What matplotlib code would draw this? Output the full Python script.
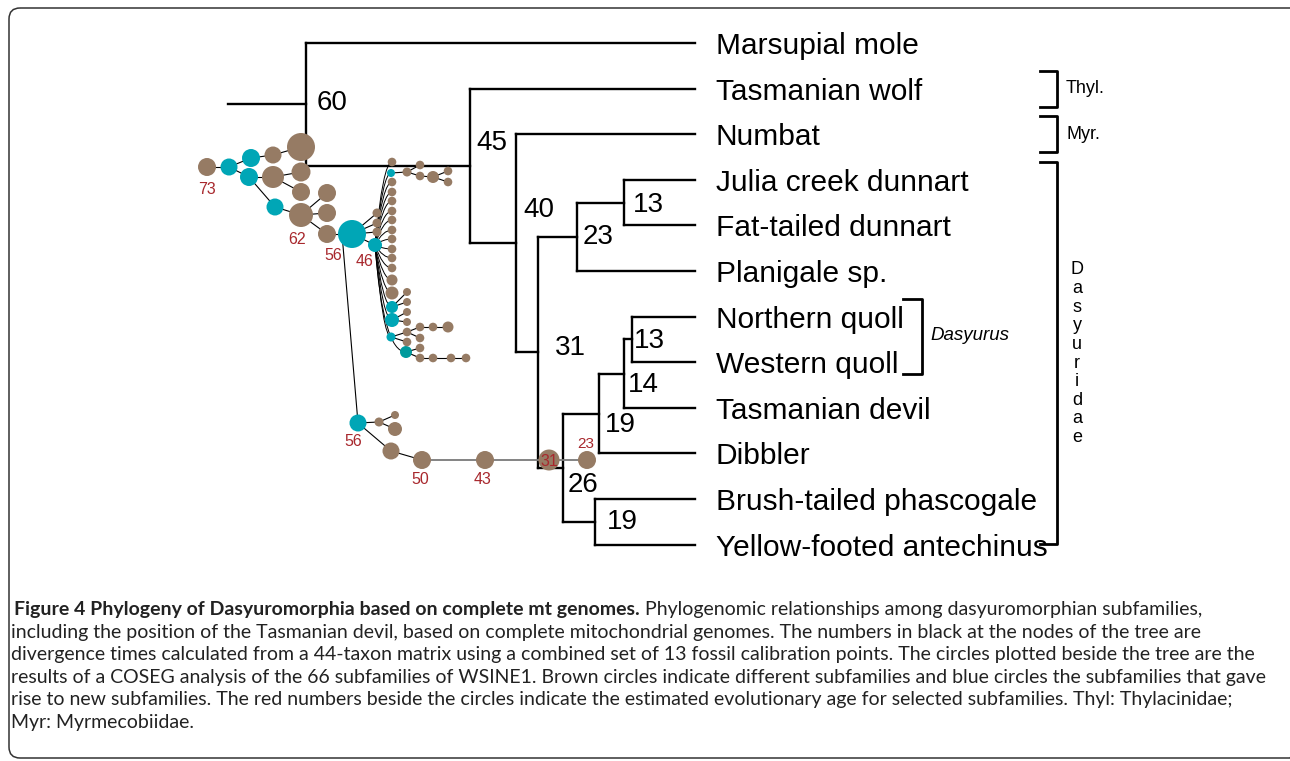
import matplotlib
matplotlib.use('Agg')
import matplotlib.pyplot as plt
from matplotlib.patches import Circle, FancyBboxPatch, PathPatch
from matplotlib.path import Path

# taxa, top to bottom
taxa = ['Marsupial mole', 'Tasmanian wolf', 'Numbat', 'Julia creek dunnart',
        'Fat-tailed dunnart', 'Planigale sp.', 'Northern quoll', 'Western quoll',
        'Tasmanian devil', 'Dibbler', 'Brush-tailed phascogale',
        'Yellow-footed antechinus']

# internal nodes: children (tip index or node name), divergence time (Ma)
node_children = {
    'n60': [0, 'n45'], 'n45': [1, 'n40'], 'n40': [2, 'n31'],
    'n31': ['n23', 'n26'], 'n23': ['n13a', 5], 'n13a': [3, 4],
    'n26': ['n19a', 'n19b'], 'n19a': ['n14', 9], 'n14': ['n13b', 8],
    'n13b': [6, 7], 'n19b': [10, 11],
}
node_age = {'n60': 60, 'n45': 45, 'n40': 40, 'n31': 31, 'n23': 23, 'n13a': 13,
            'n26': 26, 'n19a': 19, 'n14': 14, 'n13b': 13, 'n19b': 19}

# COSEG subfamily network: circle centre, radius, kind (b=brown, t=blue, d=dark blue)
sub_x = [207, 229, 251, 273, 301, 249, 273, 301, 301, 275, 301, 327, 327, 327, 352,
         377, 377, 377, 375,
         392, 391, 392, 392, 392, 392, 392, 392, 392, 392, 392, 392, 392, 392, 392, 392, 391, 406,
         407, 420, 420, 433, 448, 448,
         407, 407, 407, 407,
         407, 407, 420, 420, 433, 448,
         420, 420, 433, 451, 466,
         358, 379, 395, 395, 391, 422, 485, 549, 587]
sub_y = [167, 167, 158, 155, 147, 177, 177, 172, 192, 207, 215, 193, 213, 234, 234,
         213, 223, 232, 245,
         162, 173, 182, 192, 201, 211, 220, 230, 239, 249, 258, 268, 280, 293, 307, 320, 337, 352,
         172, 165, 176, 177, 171, 182,
         292, 302, 312, 322,
         332, 342, 327, 338, 327, 327,
         348, 358, 358, 358, 358,
         423, 422, 415, 429, 451, 460, 460, 460, 460]
sub_r = [9, 8.5, 9, 8.5, 14, 9, 11, 9.5, 9, 8.5, 12, 9, 9, 9, 14,
         4.5, 4.5, 4.5, 7,
         4.3, 4, 4.3, 4.3, 4.3, 4.3, 4.3, 4.3, 4.3, 4.3, 4.3, 4.3, 5.5, 6.5, 6, 7, 4.5, 6,
         4.5, 4.3, 4.3, 6, 4.3, 4.3,
         4, 4, 4, 4,
         4.3, 4.3, 4.3, 4.3, 4.3, 5.5,
         4.3, 4.3, 4.3, 4.3, 4.3,
         8.5, 4.5, 4, 7, 8.5, 9, 9, 10.5, 9]
sub_kind = ('bttbbtbbbtbbbbt' 'bbbt' 'btbbbbbbbbbbbbtttd' 'bbbbbb' 'bbbb' 'bbbbbb'
            'bbbbb' 'tbbbbbbbb')

sub_links = [(0, 1), (1, 2), (2, 3), (3, 4), (1, 5), (5, 6), (6, 7), (6, 8), (5, 9),
             (9, 10), (10, 11), (10, 12), (10, 13), (13, 14), (14, 15), (14, 16),
             (14, 17), (14, 18),
             (20, 37), (37, 38), (37, 39), (39, 40), (40, 41), (40, 42),
             (33, 43), (33, 44), (34, 45), (34, 46),
             (35, 47), (35, 48), (47, 49), (49, 51), (51, 52), (47, 50),
             (36, 53), (36, 54), (54, 55), (55, 56), (56, 57),
             (58, 59), (59, 60), (59, 61), (58, 62), (62, 63)]
fan_from = 18
fan_to = list(range(19, 37))
grey_links = [(63, 64), (64, 65), (65, 66)]

# estimated ages of selected subfamilies (red numbers)
age_text = ['73', '62', '56', '46', '56', '50', '43', '31', '23']
age_x = [207, 297, 333, 365, 353, 420, 483, 549, 586]
age_y = [189, 239, 256, 262, 442, 479, 479, 461, 444]

brackets = [('Thyl.', 1, 1), ('Myr.', 2, 2), ('Dasyuridae', 3, 11)]

caption_bold = 'Figure 4 Phylogeny of Dasyuromorphia based on complete mt genomes.'
caption_lines = [
    ' Phylogenomic relationships among dasyuromorphian subfamilies,',
    'including the position of the Tasmanian devil, based on complete mitochondrial genomes. The numbers in black at the nodes of the tree are',
    'divergence times calculated from a 44-taxon matrix using a combined set of 13 fossil calibration points. The circles plotted beside the tree are the',
    'results of a COSEG analysis of the 66 subfamilies of WSINE1. Brown circles indicate different subfamilies and blue circles the subfamilies that gave',
    'rise to new subfamilies. The red numbers beside the circles indicate the estimated evolutionary age for selected subfamilies. Thyl: Thylacinidae;',
    'Myr: Myrmecobiidae.',
]
caption_right = [1272, 1242, 1280, 1266, 1240, 187]

# ---- layout (pixel space) ----
node_x = {'n60': 306, 'n45': 470, 'n40': 516, 'n31': 538, 'n23': 577, 'n13a': 624,
          'n26': 563, 'n19a': 599, 'n14': 624, 'n13b': 632, 'n19b': 595}
node_lab = {'n60': (317, 103), 'n45': (476, 143), 'n40': (523, 210), 'n31': (555, 348),
            'n23': (583, 237), 'n13a': (633, 205), 'n26': (568, 485), 'n19a': (605, 425),
            'n14': (628, 385), 'n13b': (634, 341), 'n19b': (607, 522)}
tip0, tip_gap, tip_end = 43, 45.6, 695
tip_y = [tip0 + i * tip_gap for i in range(len(taxa))]

BROWN, BLUE, DBLUE, RED = '#967b64', '#00a6b6', '#009a9c', '#a8282d'
colors = {'b': BROWN, 't': BLUE, 'd': DBLUE}
tree_lw = 1.7

plt.rcParams['font.family'] = ['Liberation Sans', 'DejaVu Sans']
fig = plt.figure(figsize=(12.9, 7.61), dpi=100)
ax = fig.add_axes([0, 0, 1, 1])
ax.set_xlim(0, 1290)
ax.set_ylim(761, 0)
ax.axis('off')

ax.add_patch(FancyBboxPatch((9, 8), 1292, 750, boxstyle='round,pad=0,rounding_size=11',
                            fc='none', ec='#333333', lw=1.1, zorder=0))


# tree
def draw(node):
    if isinstance(node, int):
        return tip_y[node]
    x = node_x[node]
    ys = []
    for ch in node_children[node]:
        cy = draw(ch)
        cx = tip_end if isinstance(ch, int) else node_x[ch]
        ax.plot([x, cx], [cy, cy], color='black', lw=tree_lw, solid_capstyle='projecting', zorder=1)
        ys.append(cy)
    ax.plot([x, x], [min(ys), max(ys)], color='black', lw=tree_lw, solid_capstyle='projecting', zorder=1)
    lx, ly = node_lab[node]
    ax.text(lx, ly, str(node_age[node]), fontsize=20, ha='left', va='center', zorder=5)
    return (min(ys) + max(ys)) / 2


root_y = draw('n60')
ax.plot([228, node_x['n60']], [root_y, root_y], color='black', lw=tree_lw, zorder=1)

for i, name in enumerate(taxa):
    ax.text(716, tip_y[i], name, fontsize=21.5, ha='left', va='center_baseline')

# clade brackets
for lab, a, b in brackets:
    bx = 1057
    top = tip_y[a] - 18
    bot = tip_y[b] + (18 if a == b else -1)
    ax.plot([1040, bx, bx, 1040], [top, top, bot, bot], color='black', lw=2, zorder=1)
    if a == b:
        ax.text(1066, tip_y[a], lab, fontsize=13, ha='left', va='center')
    else:
        for k, ch in enumerate(lab):
            ax.text(1077, 270 + k * 18.6, ch, fontsize=13, ha='center', va='center')

# Dasyurus bracket
ax.plot([903, 922, 922, 903], [tip_y[6] - 18, tip_y[6] - 18, tip_y[7] + 12, tip_y[7] + 12],
        color='black', lw=2, zorder=1)
ax.text(930, 335, 'Dasyurus', fontsize=13.5, style='italic', ha='left', va='center')

# subfamily network
for a, b in sub_links:
    ax.plot([sub_x[a], sub_x[b]], [sub_y[a], sub_y[b]], color='black', lw=0.8, zorder=2)
# long link from the big 56 node down to the lower 56 node leaves its left side
ax.plot([sub_x[14] - 10, sub_x[58]], [sub_y[14], sub_y[58]], color='black', lw=0.8, zorder=2)
for a, b in grey_links:
    ax.plot([sub_x[a], sub_x[b]], [sub_y[a], sub_y[b]], color='#7a7a7a', lw=1.3, zorder=2)
x0, y0 = sub_x[fan_from], sub_y[fan_from]
for t in fan_to:
    ctrl = (x0 + 8, sub_y[t])
    p = Path([(x0, y0), ctrl, (sub_x[t], sub_y[t])], [Path.MOVETO, Path.CURVE3, Path.CURVE3])
    ax.add_patch(PathPatch(p, fc='none', ec='black', lw=0.7, zorder=2))
for x, y, r, k in zip(sub_x, sub_y, sub_r, sub_kind):
    ax.add_patch(Circle((x, y), r, color=colors[k], lw=0, zorder=3))
for s, x, y in zip(age_text, age_x, age_y):
    ax.text(x, y, s, color=RED, fontsize=11.5 if s != '23' else 11, ha='center', va='center', zorder=4)

# caption: one font size that keeps every line inside its span in the reference
cap_font = 'Lato'
fig.canvas.draw()
rend = fig.canvas.get_renderer()
fits = []
for i, line in enumerate(caption_lines[1:5], start=1):
    probe = ax.text(0, 0, line, fontsize=10, family=cap_font)
    w = probe.get_window_extent(renderer=rend).width
    probe.remove()
    fits.append(10 * (caption_right[i] - 11) / w)
cap_fs = min(fits)
cap_y0, cap_gap = 608, 22.6
tb = ax.text(14, cap_y0, caption_bold, fontsize=cap_fs, family=cap_font, weight='bold',
             color='#222222', va='center_baseline')
bw = tb.get_window_extent(renderer=rend).width
ax.text(14 + bw, cap_y0, caption_lines[0], fontsize=cap_fs, family=cap_font,
        color='#222222', va='center_baseline')
for i, line in enumerate(caption_lines[1:], start=1):
    ax.text(11, cap_y0 + i * cap_gap, line, fontsize=cap_fs, family=cap_font,
            color='#222222', va='center_baseline')

fig.savefig('out.png', dpi=100)
